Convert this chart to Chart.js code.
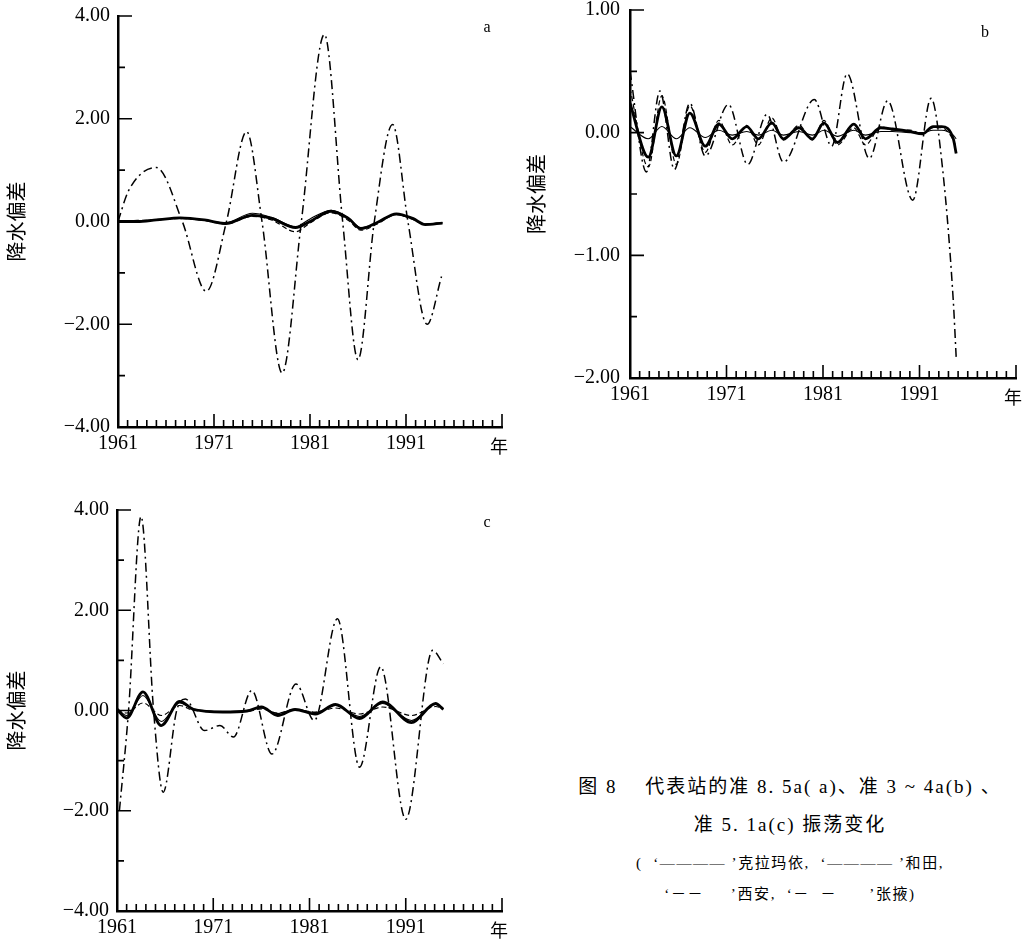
<!DOCTYPE html>
<html lang="zh">
<head>
<meta charset="UTF-8">
<title>图8 振荡变化</title>
<style>
  body { margin: 0; background: #fff; }
  #wrap { position: relative; width: 1034px; height: 944px; }
  canvas { position: absolute; }
  .cap { position: absolute; left: 535px; width: 510px; text-align: center; color: #000;
         font-family: "Liberation Serif", "Noto Sans CJK SC", serif; white-space: pre; line-height: 1; }
</style>
<script src="https://cdn.jsdelivr.net/npm/chart.js@4"></script>
</head>
<body>
<div id="wrap">
  <canvas id="chartA" width="520" height="460" style="left:0;top:0;width:520px;height:460px"></canvas>
  <canvas id="chartB" width="514" height="410" style="left:520px;top:0;width:514px;height:410px"></canvas>
  <canvas id="chartC" width="520" height="464" style="left:0;top:480px;width:520px;height:464px"></canvas>
  <div class="cap" style="top:777px;font-size:19px;letter-spacing:2px">图 8　 代表站的准 8. 5a( a)、准 3 ~ 4a(b) 、</div>
  <div class="cap" style="top:815px;font-size:19px;letter-spacing:2px">准 5. 1a(c) 振荡变化</div>
  <div class="cap" style="top:856px;font-size:15px;letter-spacing:1.6px">(  ‘———— ’克拉玛依,  ‘———— ’和田,</div>
  <div class="cap" style="top:887px;font-size:15px;letter-spacing:1.6px">‘－－     ’西安,  ‘－  －      ’张掖)</div>
</div>

<script>
const stations = ['克拉玛依', '和田', '西安', '张掖'];

// a: 准 8.5a
const aYearsSmall = [1961, 1963, 1965, 1967.5, 1970, 1972.2, 1975, 1977, 1979.5, 1981, 1983.2, 1985, 1986.3, 1988, 1990, 1991.7, 1993, 1994.8];
const aKelamayi = [0, 0.0, 0.03, 0.07, 0.03, -0.04, 0.12, 0.06, -0.12, 0.0, 0.2, 0.06, -0.14, -0.02, 0.15, 0.06, -0.06, -0.03];
const aHetian   = [0.02, 0.01, 0.04, 0.06, 0.02, -0.02, 0.16, 0.08, -0.1, 0.05, 0.22, 0.07, -0.12, -0.03, 0.13, 0.05, -0.05, -0.02];
const aXian     = [0, 0.02, 0.03, 0.06, 0.02, -0.05, 0.1, 0.03, -0.2, -0.03, 0.17, 0.02, -0.17, -0.05, 0.14, 0.04, -0.05, -0.03];
const aYearsBig = [1961, 1962.1, 1965.0, 1967.7, 1970.2, 1972.3, 1974.4, 1976.0, 1978.1, 1980.1, 1982.5, 1984.4, 1986.0, 1987.7, 1989.6, 1991.2, 1993.2, 1994.7];
const aZhangye  = [0.0, 0.6, 1.05, 0.0, -1.36, 0.0, 1.75, 0.0, -2.95, 0.0, 3.64, 0.0, -2.69, 0.0, 1.89, 0.0, -2.0, -1.07];

// b: 准 3~4a
const bYearsSmall = [1961, 1962.9, 1964.3, 1965.8, 1967.2, 1968.8, 1970.2, 1971.6, 1973.1, 1974.3, 1975.7, 1976.9, 1978.5, 1979.9, 1981.1, 1982.5, 1984.2, 1985.4, 1987.0, 1988.2, 1990.0, 1991.3, 1992.4, 1993.3, 1994.5, 1994.8];
const bKelamayi = [0.24, -0.2, 0.21, -0.19, 0.16, -0.11, 0.07, -0.05, 0.05, -0.05, 0.08, -0.05, 0.04, -0.05, 0.08, -0.08, 0.07, -0.05, 0.04, 0.03, 0.01, -0.01, 0.05, 0.05, -0.05, -0.17];
const bHetian   = [0.05, -0.05, 0.05, -0.05, 0.04, -0.04, 0.02, -0.02, 0.01, -0.02, 0.02, -0.02, 0.01, -0.02, 0.02, -0.03, 0.02, -0.02, 0.01, 0.01, 0.0, 0.0, 0.02, 0.02, -0.02, -0.05];
const bXian     = [0.36, -0.28, 0.3, -0.26, 0.22, -0.16, 0.1, -0.1, 0.06, -0.1, 0.12, -0.06, 0.06, -0.06, 0.1, -0.1, 0.04, -0.1, 0.05, 0.02, 0.02, -0.01, 0.04, 0.04, -0.06, -0.12];
const bYearsBig = [1961, 1962.7, 1964.1, 1965.6, 1967.2, 1968.8, 1971.2, 1973.2, 1975.2, 1976.9, 1980.1, 1981.9, 1983.5, 1985.8, 1987.7, 1990.3, 1992.2, 1993.4, 1994.5, 1994.8];
const bZhangye  = [0.5, -0.32, 0.34, -0.3, 0.24, -0.19, 0.23, -0.26, 0.15, -0.24, 0.27, -0.11, 0.48, -0.21, 0.26, -0.55, 0.28, -0.3, -1.37, -1.83];

// c: 准 5.1a
const cYearsSmall = [1961, 1962.0, 1963.7, 1965.6, 1967.5, 1969, 1972, 1974.5, 1976, 1977.7, 1979.5, 1981.6, 1983.7, 1986.2, 1988.6, 1991.6, 1994.1, 1994.9];
const cKelamayi = [0.02, -0.15, 0.37, -0.3, 0.18, 0.02, -0.03, -0.01, 0.07, -0.1, 0.02, -0.07, 0.12, -0.16, 0.17, -0.24, 0.14, 0.02];
const cHetian   = [0.05, -0.1, 0.3, -0.22, 0.15, 0.03, -0.02, 0.0, 0.05, -0.06, 0.03, -0.04, 0.1, -0.12, 0.14, -0.2, 0.12, 0.05];
const cXian     = [0.0, -0.05, 0.15, -0.1, 0.1, 0.0, -0.02, -0.02, 0.03, -0.05, 0.02, -0.03, 0.05, -0.07, 0.07, -0.1, 0.08, 0.03];
const cYearsBig = [1961.25, 1962.2, 1963.5, 1964.8, 1965.8, 1967.2, 1968.1, 1970.1, 1971.7, 1973.1, 1975.0, 1977.1, 1979.6, 1981.5, 1983.9, 1986.2, 1988.4, 1991.0, 1993.8, 1994.9];
const cZhangye  = [-2.0, 0.0, 3.87, 0.0, -1.63, 0.0, 0.23, -0.4, -0.3, -0.53, 0.4, -0.87, 0.53, -0.2, 1.83, -1.13, 0.87, -2.17, 1.2, 0.93];

// 线型: 克拉玛依 粗实线, 和田 细实线, 西安 虚线, 张掖 点划线
const lineStyles = [
  { borderWidth: 2.8, borderDash: [] },
  { borderWidth: 1.1, borderDash: [] },
  { borderWidth: 1.2, borderDash: [5, 3] },
  { borderWidth: 1.5, borderDash: [9, 4, 2, 4] }
];

function pts(years, vals) {
  return years.map((x, i) => ({ x: x, y: vals[i] }));
}

function fmt(v) {
  const s = Math.abs(v).toFixed(2);
  return v < 0 ? '\u2212' + s : s;
}

// ticks drawn inward, panel letter, 年
const innerTicks = {
  id: 'innerTicks',
  afterDraw(chart, args, opts) {
    const ctx = chart.ctx;
    const area = chart.chartArea;
    const xs = chart.scales.x, ys = chart.scales.y;
    ctx.save();
    ctx.strokeStyle = '#000';
    ctx.lineWidth = 1.6;
    ctx.beginPath();
    ys.ticks.forEach(t => {
      const py = ys.getPixelForValue(t.value);
      const len = t.label ? 14 : 7;
      ctx.moveTo(area.left, py);
      ctx.lineTo(area.left + len, py);
    });
    xs.ticks.forEach(t => {
      const px = xs.getPixelForValue(t.value);
      const len = (t.value - 1961) % 10 === 0 ? 13 : 7;
      ctx.moveTo(px, area.bottom);
      ctx.lineTo(px, area.bottom - len);
    });
    ctx.stroke();
    ctx.fillStyle = '#000';
    ctx.textAlign = 'center';
    ctx.textBaseline = 'middle';
    ctx.font = '16px "Liberation Serif"';
    ctx.fillText(opts.letter, area.right + opts.dx, area.top + opts.dy);
    ctx.font = '18px "Noto Sans CJK SC"';
    ctx.fillText('年', area.right - 3, area.bottom + 19);
    ctx.restore();
  }
};

function makePanel(id, p) {
  const series = [
    pts(p.smallYears, p.kelamayi),
    pts(p.smallYears, p.hetian),
    pts(p.smallYears, p.xian),
    pts(p.bigYears, p.zhangye)
  ];
  const datasets = series.map((d, i) => ({
    label: stations[i],
    data: d,
    borderColor: '#000',
    borderWidth: lineStyles[i].borderWidth,
    borderDash: lineStyles[i].borderDash,
    pointRadius: 0,
    fill: false,
    cubicInterpolationMode: 'monotone'
  }));

  new Chart(document.getElementById(id), {
    type: 'line',
    data: { datasets: datasets },
    plugins: [innerTicks],
    options: {
      responsive: false,
      animation: false,
      layout: { padding: { top: p.top, right: p.right, left: 0, bottom: 0 } },
      plugins: {
        legend: { display: false },
        tooltip: { enabled: false },
        innerTicks: { letter: p.letter, dx: p.dx, dy: p.dy }
      },
      scales: {
        x: {
          type: 'linear',
          min: 1961,
          max: 2001,
          afterFit: s => { s.height = p.xHeight; s.paddingLeft = 0; s.paddingRight = 0; },
          grid: { display: false, drawTicks: false },
          border: { display: true, width: 2.5, color: '#000' },
          ticks: {
            stepSize: 1,
            autoSkip: false,
            maxRotation: 0,
            padding: 5,
            color: '#000',
            font: { family: 'Liberation Serif', size: 20 },
            callback: v => ((v - 1961) % 10 === 0 && v < 2001) ? String(v) : ''
          }
        },
        y: {
          min: p.yMin,
          max: p.yMax,
          // keep the plot box where the reference has it
          afterFit: s => { s.width = p.yWidth; s.paddingTop = 0; s.paddingBottom = 0; },
          grid: { display: false, drawTicks: false },
          border: { display: true, width: 2.5, color: '#000' },
          title: {
            display: true,
            text: '降水偏差',
            color: '#000',
            font: { family: 'Noto Sans CJK SC', size: 20 },
            padding: { top: 4, bottom: 0 }
          },
          ticks: {
            stepSize: p.step,
            autoSkip: false,
            padding: p.labelPad,
            color: '#000',
            font: { family: 'Liberation Serif', size: 20 },
            callback: v => (Math.abs(v / p.major - Math.round(v / p.major)) < 1e-6) ? fmt(v) : ''
          }
        }
      }
    }
  });
}

makePanel('chartA', {
  smallYears: aYearsSmall, kelamayi: aKelamayi, hetian: aHetian, xian: aXian,
  bigYears: aYearsBig, zhangye: aZhangye,
  yMin: -4, yMax: 4, step: 1, major: 2,
  yWidth: 118, xHeight: 33, top: 16, right: 18, labelPad: 8,
  letter: 'a', dx: -15, dy: 12
});

makePanel('chartB', {
  smallYears: bYearsSmall, kelamayi: bKelamayi, hetian: bHetian, xian: bXian,
  bigYears: bYearsBig, zhangye: bZhangye,
  yMin: -2, yMax: 1, step: 0.5, major: 1,
  yWidth: 110, xHeight: 32, top: 10, right: 18, labelPad: 10,
  letter: 'b', dx: -31, dy: 23
});

makePanel('chartC', {
  smallYears: cYearsSmall, kelamayi: cKelamayi, hetian: cHetian, xian: cXian,
  bigYears: cYearsBig, zhangye: cZhangye,
  yMin: -4, yMax: 4, step: 1, major: 2,
  yWidth: 117, xHeight: 33, top: 30, right: 18, labelPad: 8,
  letter: 'c', dx: -15, dy: 13
});
</script>
</body>
</html>
